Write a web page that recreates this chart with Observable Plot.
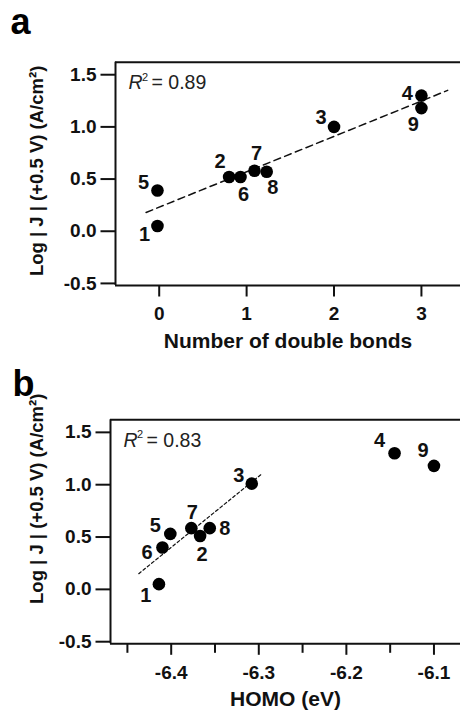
<!DOCTYPE html>
<html><head><meta charset="utf-8">
<script src="https://cdn.jsdelivr.net/npm/d3@7"></script>
<script src="https://cdn.jsdelivr.net/npm/@observablehq/plot@0.6"></script>
<style>
body{margin:0;background:#fff;}
#chart{width:460px;height:711px;overflow:hidden;}
#chart svg{display:block;}
</style>
</head><body><div id="chart"></div>
<script>
// ---- data ----
const compounds = ["1","2","3","4","5","6","7","8","9"];
const doubleBonds = [-0.02, 0.80, 2.00, 3.00, -0.02, 0.93, 1.09, 1.23, 3.00];
const logJA = [0.05, 0.52, 1.00, 1.30, 0.39, 0.52, 0.58, 0.57, 1.18];
const homo = [-6.414, -6.367, -6.308, -6.145, -6.401, -6.410, -6.377, -6.356, -6.100];
const logJB = [0.05, 0.51, 1.01, 1.30, 0.53, 0.40, 0.585, 0.585, 1.18];
const fitAX = [-0.15, 3.30], fitAY = [0.18, 1.35];
const fitBX = [-6.437, -6.297], fitBY = [0.15, 1.10];
const yTicks = [-0.5, 0.0, 0.5, 1.0, 1.5];
const xTicksA = [0, 1, 2, 3];
const xTicksB = [-6.4, -6.3, -6.2, -6.1];
const xMinorB = [-6.45, -6.35, -6.25, -6.15];
const r2A = "0.89", r2B = "0.83";
const yTitle = "Log | J | (+0.5 V) (A/cm²)";
const xTitleA = "Number of double bonds";
const xTitleB = "HOMO (eV)";

const FONT = "'Liberation Sans', Arial, Helvetica, sans-serif";
const fmt1 = d => d.toFixed(1);

const labelOffA = {1:[-13,9],5:[-14,-8],2:[-9,-15],6:[3,18],7:[2,-17],8:[6,16],3:[-13,-9],4:[-14,-2],9:[-8,16]};
const labelOffB = {1:[-13,11],6:[-15.5,5],5:[-15,-8],7:[1,-16],2:[2,19],8:[15,0],3:[-13,-8],4:[-15,-13],9:[-11,-15]};

// custom tick symbols (line segments drawn outward from the axis)
const tickSym = (dx, dy) => ({draw(ctx) { ctx.moveTo(0, 0); ctx.lineTo(dx, dy); }});

function panel(cfg) {
  const pts = compounds.map((c, i) => ({c, x: cfg.xs[i], y: cfg.ys[i]}));
  const fit = cfg.fitX.map((x, i) => ({x, y: cfg.fitY[i]}));
  const [x0] = cfg.xDomain, [y0, y1] = cfg.yDomain;
  const marks = [
    Plot.ruleY([y1], {stroke: "#111", strokeWidth: 2}),
    Plot.ruleX([x0], {stroke: "#111", strokeWidth: 2}),
    Plot.ruleY([y0], {stroke: "#111", strokeWidth: 2}),
    // y ticks + labels
    Plot.dot(yTicks, {x: () => x0, y: d => d, symbol: tickSym(-15, 0), fill: "none", stroke: "#111", strokeWidth: 2}),
    Plot.text(yTicks, {x: () => x0, y: d => d, text: fmt1, dx: -19, textAnchor: "end", lineAnchor: "middle", fontSize: 19, fontWeight: "bold", fill: "#111"}),
    // x ticks + labels
    Plot.dot(cfg.xTicks, {x: d => d, y: () => y0, symbol: tickSym(0, 11), fill: "none", stroke: "#111", strokeWidth: 2}),
    Plot.text(cfg.xTicks, {x: d => d, y: () => y0, text: cfg.xFormat, dy: cfg.xLabDy, textAnchor: "middle", lineAnchor: "middle", fontSize: 19, fontWeight: "bold", fill: "#111"}),
    Plot.line(fit, {x: "x", y: "y", stroke: "#111", strokeWidth: cfg.dashW, strokeDasharray: cfg.dash}),
    Plot.dot(pts, {x: "x", y: "y", r: 6.3, fill: "#000", stroke: "none"}),
    ...pts.map(p => Plot.text([p], {x: "x", y: "y", text: "c", dx: cfg.off[p.c][0], dy: cfg.off[p.c][1], fontSize: 20, fontWeight: "bold", textAnchor: "middle", lineAnchor: "middle", fill: "#111"})),
    // R² annotation
    Plot.text(["R"], {frameAnchor: "top-left", text: d => d, dx: 13, dy: 21, lineAnchor: "middle", textAnchor: "start", fontSize: 19.5, fontStyle: "italic", fontWeight: "normal", fill: "#222"}),
    Plot.text(["2"], {frameAnchor: "top-left", text: d => d, dx: 26.5, dy: 15, lineAnchor: "middle", textAnchor: "start", fontSize: 11, fontWeight: "normal", fill: "#222"}),
    Plot.text([cfg.r2], {frameAnchor: "top-left", text: d => "= " + d, dx: 36, dy: 21, lineAnchor: "middle", textAnchor: "start", fontSize: 19.5, fontWeight: "normal", fill: "#222"}),
    // axis titles
    Plot.text([cfg.xTitle], {frameAnchor: "bottom", text: d => d, dy: cfg.xTitleDy, lineAnchor: "middle", fontSize: 21, fontWeight: "bold", fill: "#111"}),
    Plot.text([yTitle], {frameAnchor: "left", text: d => d, dx: cfg.yTitleDx, dy: cfg.yTitleDy, rotate: -90, lineAnchor: "middle", textAnchor: "middle", fontSize: 18.5, fontWeight: "bold", fill: "#111"}),
    // panel letter
    Plot.text([cfg.letter], {frameAnchor: "top-left", text: d => d, dx: cfg.letterDx, dy: cfg.letterDy, lineAnchor: "bottom", textAnchor: "start", fontSize: 36, fontWeight: "bold", fill: "#000"})
  ];
  if (cfg.minor) marks.push(Plot.dot(cfg.minor, {x: d => d, y: () => y0, symbol: tickSym(0, 9), fill: "none", stroke: "#111", strokeWidth: 2}));
  return Plot.plot({
    width: 460, height: cfg.height,
    marginLeft: cfg.ml, marginRight: 0, marginTop: cfg.mt, marginBottom: cfg.mb,
    style: {fontFamily: FONT, color: "#111", background: "#fff", overflow: "visible"},
    x: {domain: cfg.xDomain, axis: null},
    y: {domain: cfg.yDomain, axis: null},
    marks
  });
}

const A = panel({
  xs: doubleBonds, ys: logJA, fitX: fitAX, fitY: fitAY,
  xDomain: [-0.5, 3.447], yDomain: [-0.52, 1.62],
  xTicks: xTicksA, xFormat: d => String(d), xLabDy: 28,
  dash: "7,4.5", dashW: 1.5, off: labelOffA, r2: r2A,
  xTitle: xTitleA, xTitleDy: 56, yTitleDx: -78, yTitleDy: -3,
  letter: "a", letterDx: -105, letterDy: -28,
  height: 357, ml: 115, mt: 61.7, mb: 72
});
const B = panel({
  xs: homo, ys: logJB, fitX: fitBX, fitY: fitBY,
  xDomain: [-6.4693, -6.0697], yDomain: [-0.52, 1.62],
  xTicks: xTicksB, xFormat: d => d.toFixed(1), xLabDy: 29, minor: xMinorB,
  dash: "3,2.5", dashW: 1.2, off: labelOffB, r2: r2B,
  xTitle: xTitleB, xTitleDy: 55, yTitleDx: -73, yTitleDy: -33,
  letter: "b", letterDx: -98, letterDy: -24,
  height: 354, ml: 110, mt: 62.3, mb: 67.7
});
document.getElementById("chart").append(A, B);
</script>
</body></html>
